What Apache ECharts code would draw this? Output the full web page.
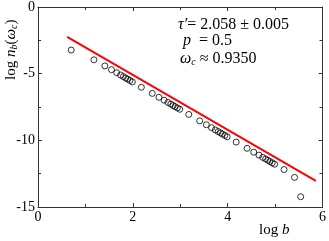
<!DOCTYPE html>
<html>
<head>
<meta charset="utf-8">
<script src="https://cdn.jsdelivr.net/npm/echarts@6/dist/echarts.min.js"></script>
<style>html,body{margin:0;padding:0;background:#fff;}#c{width:329px;height:241px;}</style>
</head>
<body>
<div id="c"></div>
<script>
var logB = [0.70, 1.18, 1.41, 1.55, 1.66, 1.74, 1.80, 1.85, 1.89, 1.94, 1.99,
  2.18, 2.41, 2.55, 2.66, 2.74, 2.80, 2.85, 2.89, 2.94, 2.99,
  3.18, 3.41, 3.55, 3.66, 3.74, 3.80, 3.85, 3.89, 3.94, 3.99,
  4.18, 4.41, 4.55, 4.66, 4.74, 4.80, 4.85, 4.89, 4.94, 4.99,
  5.19, 5.41, 5.54];
var logN = [-3.23, -3.96, -4.42, -4.70, -4.93, -5.10, -5.22, -5.33, -5.41, -5.51, -5.62,
  -6.02, -6.48, -6.77, -6.99, -7.16, -7.28, -7.39, -7.47, -7.57, -7.67,
  -8.06, -8.54, -8.83, -9.05, -9.22, -9.34, -9.44, -9.53, -9.63, -9.73,
  -10.13, -10.60, -10.89, -11.11, -11.28, -11.40, -11.50, -11.59, -11.69, -11.79,
  -12.19, -12.78, -14.23];
var fitX = [0.615, 5.86];
var fitY = [-2.24, -13.04];
var xTicks = [0, 2, 4, 6];
var yTicks = [0, -5, -10, -15];

var FF = 'Liberation Serif';
var chart = echarts.init(document.getElementById('c'), null, {renderer: 'canvas'});
var axisCommon = function (pos, isX, showLabel) {
  return {
    type: 'value', position: pos,
    min: isX ? xTicks[0] : yTicks[3], max: isX ? xTicks[3] : yTicks[0], interval: 5 * (isX ? 0.4 : 1),
    axisLine: {show: true, onZero: false, lineStyle: {color: '#333', width: 1}},
    axisTick: {show: true, inside: true, length: 4, lineStyle: {color: '#333'}},
    minorTick: {show: true, splitNumber: 2, length: 3, lineStyle: {color: '#333'}},
    splitLine: {show: false},
    axisLabel: {show: showLabel, color: '#000', fontFamily: FF, fontSize: 14, margin: isX ? 3 : 3},
  };
};
var dataPts = logB.map(function (x, i) { return [x, logN[i]]; });
var fitPts = fitX.map(function (x, i) { return [x, fitY[i]]; });
chart.setOption({
  animation: false,
  grid: {left: 38, right: 5, top: 6, bottom: 34},
  xAxis: [axisCommon('bottom', true, true), axisCommon('top', true, false)],
  yAxis: [axisCommon('left', false, true), axisCommon('right', false, false)],
  series: [
    {type: 'line', data: fitPts, symbol: 'none', lineStyle: {color: '#ff0000', width: 2}, z: 2},
    {type: 'scatter', data: dataPts, symbol: 'circle', symbolSize: 6,
     itemStyle: {color: 'rgba(0,0,0,0)', borderColor: '#000', borderWidth: 1}, z: 3}
  ],
  graphic: [
    {type: 'text', left: 178, top: 17, style: {
      text: '{i|τ′}= 2.058 ± 0.005',
      font: '16px "Liberation Serif"', fill: '#000',
      rich: {i: {fontFamily: FF, fontStyle: 'italic', fontSize: 16}}
    }},
    {type: 'text', left: 183, top: 33, style: {
      text: '{i|p}  = 0.5',
      font: '16px "Liberation Serif"', fill: '#000',
      rich: {i: {fontFamily: FF, fontStyle: 'italic', fontSize: 16}}
    }},
    {type: 'text', left: 180, top: 48, style: {
      text: '{i|ω}{s|c} ≈ 0.9350',
      font: '16px "Liberation Serif"', fill: '#000',
      rich: {i: {fontFamily: FF, fontStyle: 'italic', fontSize: 16, lineHeight: 17, verticalAlign: 'middle'},
             s: {fontFamily: FF, fontStyle: 'italic', fontSize: 10, lineHeight: 10, padding: [9, 0, 0, 0], verticalAlign: 'bottom'}}
    }},
    {type: 'text', x: 3, y: 80, rotation: Math.PI / 2, style: {
      text: 'log {i|n}{s|b}({i|ω}{s|c})',
      font: '15px "Liberation Serif"', fill: '#000',
      rich: {i: {fontFamily: FF, fontStyle: 'italic', fontSize: 15, lineHeight: 16, verticalAlign: 'middle'},
             s: {fontFamily: FF, fontStyle: 'italic', fontSize: 10, lineHeight: 10, padding: [8, 0, 0, 0], verticalAlign: 'bottom'}}
    }},
    {type: 'text', left: 259, top: 223, style: {
      text: 'log {i|b}',
      font: '15px "Liberation Serif"', fill: '#000',
      rich: {i: {fontFamily: FF, fontStyle: 'italic', fontSize: 15}}
    }}
  ]
});
</script>
</body>
</html>
